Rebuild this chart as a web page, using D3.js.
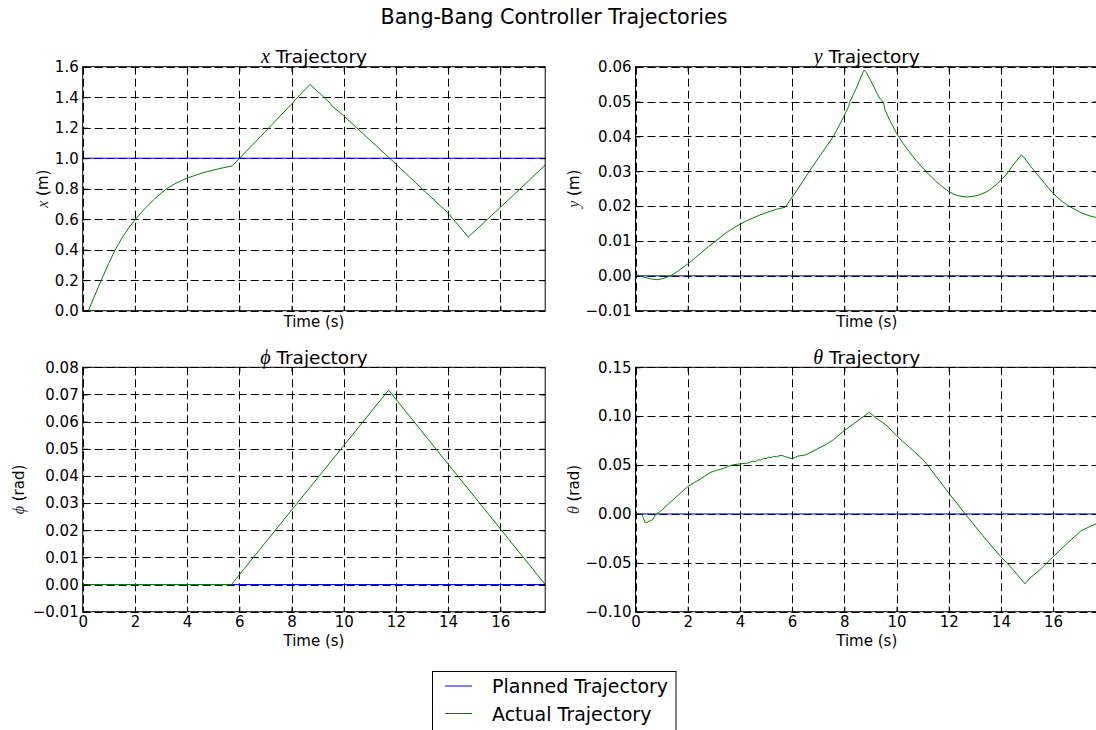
<!DOCTYPE html>
<html><head><meta charset="utf-8">
<script src="https://cdn.jsdelivr.net/npm/d3@7"></script>
<style>
body{margin:0;background:#fff}
svg{display:block}
text{font-family:"DejaVu Sans",sans-serif;white-space:pre;fill:#000}
</style>
</head><body>
<svg id="chart" width="1096" height="730"></svg>
<script>
// ---------------- data ----------------
const timeDomain = [0, 17.72];
const timeTicks = [0, 2, 4, 6, 8, 10, 12, 14, 16];

// x trajectory
const tX = [0, 0.22, 0.4, 0.6, 0.8, 1.0, 1.24, 1.5, 1.75, 2.0, 2.25, 2.5, 2.75, 3.0, 3.22, 3.5, 3.75, 3.98, 4.25, 4.5, 4.75, 5.0, 5.4, 5.73,
            6.0, 7.0, 8.0, 8.08, 8.1, 8.5, 8.71, 9.3, 9.5, 9.52, 10.0, 11.0, 11.76, 12.17, 13.0, 14.0, 14.77,
            15.5, 16.5, 17.72];
const xActual = [0, 0, 0.075, 0.155, 0.235, 0.31, 0.398, 0.475, 0.54, 0.595, 0.645, 0.69, 0.732, 0.77, 0.80, 0.83, 0.85, 0.868, 0.884, 0.898, 0.911, 0.922, 0.938, 0.949,
            0.998, 1.175, 1.355, 1.366, 1.375, 1.447, 1.484, 1.39, 1.358, 1.348, 1.278, 1.12, 1.0, 0.934, 0.80, 0.64, 0.483,
            0.598, 0.757, 0.955];
const xPlanned = [1.0, 1.0];
const xTicksY = [0.0, 0.2, 0.4, 0.6, 0.8, 1.0, 1.2, 1.4, 1.6];

// y trajectory
const tY = [0, 0.3, 0.6, 0.83, 1.05, 1.35, 1.65, 2.0, 2.25, 2.5, 2.8, 3.12, 3.5, 3.75, 4.01, 4.25, 4.5, 4.75, 4.96, 5.2, 5.4, 5.74,
            6.2, 6.66, 7.1, 7.58, 7.9, 8.17, 8.2, 8.5, 8.72, 8.76, 8.85, 9.0, 9.2, 9.35, 9.5, 9.55, 9.75,
            10.0, 10.25, 10.5, 10.75, 11.0, 11.25, 11.5, 11.75, 12.0, 12.2, 12.4, 12.7, 13.0, 13.2, 13.5, 13.85, 14.2, 14.45, 14.65, 14.79,
            14.9, 15.1, 15.4, 15.7, 15.97, 16.3, 16.63, 16.9, 17.1, 17.4, 17.72];
const yActual = [0, -0.0003, -0.0009, -0.0011, -0.0008, 0, 0.0015, 0.0034, 0.0049, 0.0065, 0.0084, 0.0103, 0.0125, 0.0137, 0.0148, 0.0158, 0.0166, 0.0174, 0.018, 0.0186, 0.0191, 0.0197,
            0.0247, 0.030, 0.0348, 0.040, 0.0445, 0.0486, 0.0497, 0.0545, 0.0585, 0.0590, 0.0583, 0.0562, 0.0532, 0.051, 0.0498, 0.0478, 0.0445,
            0.0409, 0.038, 0.0355, 0.0331, 0.031, 0.029, 0.0272, 0.0256, 0.0242, 0.0234, 0.0229, 0.0226, 0.0229, 0.0233, 0.0243, 0.0263, 0.029, 0.0316, 0.0335, 0.0347,
            0.0338, 0.0318, 0.029, 0.0263, 0.0239, 0.0216, 0.0199, 0.0188, 0.018, 0.0172, 0.0166];
const yPlanned = [0, 0];
const yTicksY = [-0.01, 0.0, 0.01, 0.02, 0.03, 0.04, 0.05, 0.06];

// phi trajectory
const tPhi = [0, 5.7, 11.72, 17.72];
const phiActual = [0, 0, 0.0716, 0];
const phiPlanned = [0, 0];
const phiTicksY = [-0.01, 0.0, 0.01, 0.02, 0.03, 0.04, 0.05, 0.06, 0.07, 0.08];

// theta trajectory
const tTheta = [0, 0.24, 0.3, 0.37, 0.45, 0.56, 0.65, 0.76, 1.02, 1.25, 1.5, 1.75, 2.0, 2.25, 2.5, 2.86, 3.1, 3.3, 3.5, 3.7, 4.01, 4.3,
            4.5, 4.6, 4.7, 4.8, 4.9, 5.0, 5.1, 5.2, 5.3, 5.4, 5.5, 5.61, 5.8, 6.0, 6.2, 6.53, 7.0, 7.3, 7.58, 8.01,
            8.5, 8.96, 9.2, 9.6, 10.0, 10.5, 11.0, 11.19, 11.5, 12.01, 12.63, 13.3, 14.0, 14.5, 14.92,
            15.1, 15.5, 16.0, 16.5, 17.06, 17.4, 17.72];
const thetaActual = [0, 0, -0.004, -0.0089, -0.0085, -0.0068, -0.006, -0.001, 0.004, 0.010, 0.016, 0.022, 0.028, 0.032, 0.036, 0.0424, 0.0445, 0.046, 0.048, 0.050, 0.0513, 0.052,
            0.054, 0.0535, 0.0555, 0.055, 0.057, 0.0565, 0.058, 0.0575, 0.059, 0.0585, 0.0595, 0.0598, 0.058, 0.0564, 0.059, 0.0605, 0.067, 0.071, 0.0759, 0.0855,
            0.095, 0.104, 0.0985, 0.091, 0.080, 0.068, 0.056, 0.050, 0.039, 0.0212, 0.0, -0.022, -0.0438, -0.058, -0.0715,
            -0.066, -0.057, -0.0438, -0.031, -0.0175, -0.013, -0.0095];
const thetaPlanned = [0, 0];
const thetaTicksY = [-0.10, -0.05, 0.0, 0.05, 0.10, 0.15];

const legendLabels = ["Planned Trajectory", "Actual Trajectory"];
const seriesColors = ["#0000ff", "#008000"];

// ---------------- layout ----------------
const svg = d3.select("#chart");
const cols = [{x0: 82.7, x1: 545.2}, {x0: 635.5, x1: 1098}];
const rows = [{y0: 66.7, y1: 310.7}, {y0: 367.3, y1: 611.7}];
const ylabelX = [[43, 574], [19, 574]];

const panels = [
  {sym: "x", unit: " (m)", t: tX, v: xActual, plan: xPlanned, ticks: xTicksY, dec: 1, r: 0, c: 0},
  {sym: "y", unit: " (m)", t: tY, v: yActual, plan: yPlanned, ticks: yTicksY, dec: 2, r: 0, c: 1},
  {sym: "\u03D5", unit: " (rad)", t: tPhi, v: phiActual, plan: phiPlanned, ticks: phiTicksY, dec: 2, r: 1, c: 0},
  {sym: "\u03B8", unit: " (rad)", t: tTheta, v: thetaActual, plan: thetaPlanned, ticks: thetaTicksY, dec: 2, r: 1, c: 1}
];

const mathFont = "'Liberation Serif','DejaVu Serif',serif";
const fmtTick = (d, dec) => {
  const s = Math.abs(d) < 1e-12 ? (0).toFixed(dec) : Math.abs(d).toFixed(dec);
  return (d < -1e-12 ? "\u2212" : "") + s;
};

panels.forEach((p, i) => {
  const col = cols[p.c], row = rows[p.r];
  const xs = d3.scaleLinear().domain(timeDomain).range([col.x0, col.x1]);
  const ys = d3.scaleLinear().domain([p.ticks[0], p.ticks[p.ticks.length - 1]]).range([row.y1, row.y0]);
  const g = svg.append("g");

  const clipId = "clip" + i;
  svg.append("clipPath").attr("id", clipId).append("rect")
    .attr("x", col.x0).attr("y", row.y0).attr("width", col.x1 - col.x0).attr("height", row.y1 - row.y0);

  // grid
  const grid = g.append("g").attr("stroke", "#000").attr("stroke-width", 1).attr("stroke-dasharray", "8,4").attr("fill", "none");
  timeTicks.forEach(tv => {
    const x = Math.round(xs(tv)) + 0.5;
    grid.append("line").attr("x1", x).attr("x2", x).attr("y1", row.y0).attr("y2", row.y1);
  });
  p.ticks.forEach(yv => {
    const y = Math.round(ys(yv)) + 0.5;
    grid.append("line").attr("x1", col.x0).attr("x2", col.x1).attr("y1", y).attr("y2", y);
  });

  // lines
  const line = d3.line().x(d => xs(d[0])).y(d => ys(d[1]));
  const lg = g.append("g").attr("clip-path", `url(#${clipId})`).attr("fill", "none").attr("stroke-width", 1);
  lg.append("path").attr("d", line(timeDomain.map((tv, k) => [tv, p.plan[k]]))).attr("stroke", seriesColors[0]);
  lg.append("path").attr("d", line(p.t.map((tv, k) => [tv, p.v[k]]))).attr("stroke", seriesColors[1]);

  // axes with inward ticks
  const ax = g.append("g");
  ax.append("g").attr("transform", `translate(0,${row.y1})`)
    .call(d3.axisBottom(xs).tickValues(timeTicks).tickSize(-5).tickPadding(4.5)
      .tickFormat(p.r === 1 ? d3.format("d") : () => ""));
  ax.append("g").attr("transform", `translate(0,${row.y0})`)
    .call(d3.axisTop(xs).tickValues(timeTicks).tickSize(-5).tickFormat(() => ""));
  ax.append("g").attr("transform", `translate(${col.x0},0)`)
    .call(d3.axisLeft(ys).tickValues(p.ticks).tickSize(-5).tickPadding(4).tickFormat(d => fmtTick(d, p.dec)));
  ax.append("g").attr("transform", `translate(${col.x1},0)`)
    .call(d3.axisRight(ys).tickValues(p.ticks).tickSize(-5).tickFormat(() => ""));
  ax.selectAll(".domain").remove();
  ax.selectAll(".tick line").attr("stroke", "#000").attr("stroke-width", 1);
  ax.selectAll(".tick text").attr("font-family", "'DejaVu Sans',sans-serif").attr("font-size", 15).attr("fill", "#000");

  // spines
  g.append("rect").attr("x", col.x0).attr("y", row.y0).attr("width", col.x1 - col.x0).attr("height", row.y1 - row.y0)
    .attr("fill", "none").attr("stroke", "#000").attr("stroke-width", 1);

  // title
  const cx = (col.x0 + col.x1) / 2;
  const title = g.append("text").attr("x", cx).attr("y", row.y0 - 3.5).attr("text-anchor", "middle").attr("font-size", 18.5);
  title.append("tspan").attr("font-family", mathFont).attr("font-style", "italic").attr("font-size", 20).text(p.sym);
  title.append("tspan").text(" Trajectory");

  // x label
  g.append("text").attr("x", cx).attr("y", p.r === 0 ? row.y1 + 16 : row.y1 + 34.5)
    .attr("text-anchor", "middle").attr("font-size", 15).text("Time (s)");

  // y label
  const yl = g.append("text").attr("transform", `translate(${ylabelX[p.r][p.c]},${(row.y0 + row.y1) / 2}) rotate(-90)`)
    .attr("text-anchor", "middle").attr("dy", "0.35em").attr("font-size", 15);
  yl.append("tspan").attr("font-family", mathFont).attr("font-style", "italic").attr("font-size", 16).attr("fill", "#333").text(p.sym);
  yl.append("tspan").text(p.unit);
});

// suptitle
svg.append("text").attr("x", 554).attr("y", 24).attr("text-anchor", "middle").attr("font-size", 20.7)
  .text("Bang-Bang Controller Trajectories");

// legend
const leg = svg.append("g");
leg.append("rect").attr("x", 432.5).attr("y", 671.5).attr("width", 243.5).attr("height", 80)
  .attr("fill", "#fff").attr("stroke", "#000").attr("stroke-width", 1);
legendLabels.forEach((lab, k) => {
  const y = 686 + k * 27.5;
  leg.append("line").attr("x1", 445).attr("x2", 472).attr("y1", y).attr("y2", y)
    .attr("stroke", seriesColors[k]).attr("stroke-width", 1);
  leg.append("text").attr("x", 492).attr("y", y + 7).attr("font-size", 19).text(lab);
});
</script>
</body></html>
